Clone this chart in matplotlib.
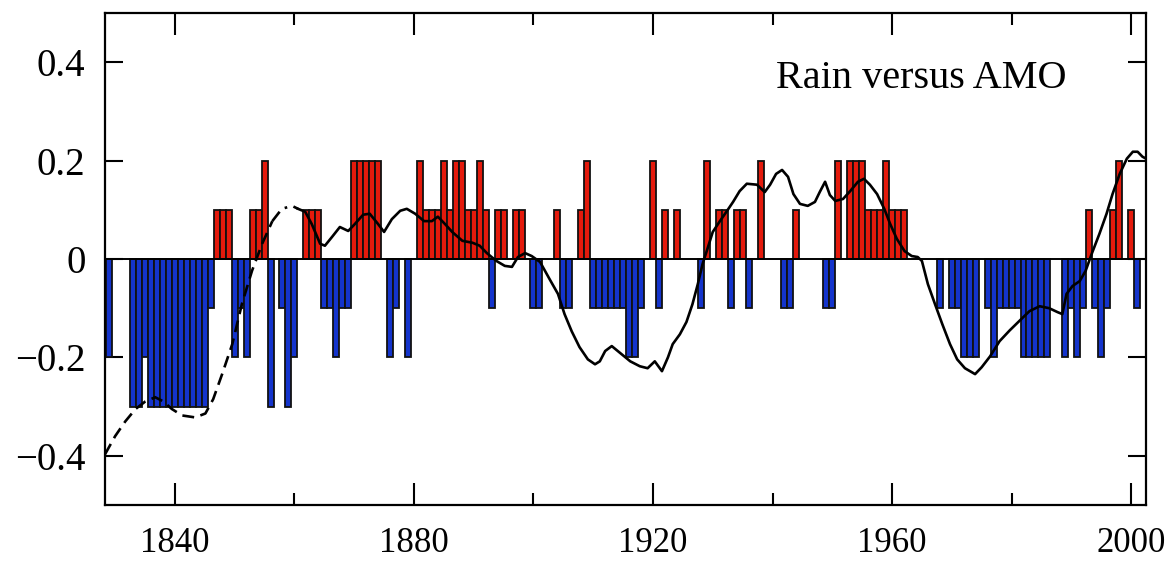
import matplotlib
matplotlib.use("Agg")
import matplotlib.pyplot as plt

# ---------------- data ----------------
bar_years = [1829,
             1833, 1834, 1835, 1836, 1837, 1838, 1839, 1840, 1841, 1842, 1843, 1844, 1845, 1846,
             1847, 1848, 1849, 1850, 1851, 1852, 1853, 1854, 1855,
             1856, 1858, 1859, 1860, 1862, 1863, 1864,
             1865, 1866, 1867, 1868, 1869, 1870, 1871, 1872, 1873, 1874,
             1876, 1877, 1879,
             1881, 1882, 1883, 1884, 1885, 1886, 1887, 1888, 1889, 1890, 1891, 1892,
             1893, 1894, 1895, 1897, 1898, 1900, 1901, 1904, 1905, 1906, 1908, 1909,
             1910, 1911, 1912, 1913, 1914, 1915, 1916, 1917, 1918,
             1920, 1921, 1922, 1924,
             1928, 1929, 1931, 1932, 1933, 1934, 1935, 1936, 1938,
             1942, 1943, 1944,
             1949, 1950, 1951, 1953, 1954, 1955, 1956, 1957, 1958, 1959, 1960, 1961, 1962,
             1968, 1970, 1971, 1972, 1973, 1974, 1976, 1977,
             1978, 1979, 1980, 1981, 1982, 1983, 1984, 1985, 1986,
             1989, 1990, 1991, 1992, 1993, 1994, 1995, 1996, 1997, 1998, 2000, 2001]
bar_values = [-0.2,
              -0.3, -0.3, -0.2, -0.3, -0.3, -0.3, -0.3, -0.3, -0.3, -0.3, -0.3, -0.3, -0.3, -0.1,
              0.1, 0.1, 0.1, -0.2, -0.1, -0.2, 0.1, 0.1, 0.2,
              -0.3, -0.1, -0.3, -0.2, 0.1, 0.1, 0.1,
              -0.1, -0.1, -0.2, -0.1, -0.1, 0.2, 0.2, 0.2, 0.2, 0.2,
              -0.2, -0.1, -0.2,
              0.2, 0.1, 0.1, 0.1, 0.2, 0.1, 0.2, 0.2, 0.1, 0.1, 0.2, 0.1,
              -0.1, 0.1, 0.1, 0.1, 0.1, -0.1, -0.1, 0.1, -0.1, -0.1, 0.1, 0.2,
              -0.1, -0.1, -0.1, -0.1, -0.1, -0.1, -0.2, -0.2, -0.1,
              0.2, -0.1, 0.1, 0.1,
              -0.1, 0.2, 0.1, 0.1, -0.1, 0.1, 0.1, -0.1, 0.2,
              -0.1, -0.1, 0.1,
              -0.1, -0.1, 0.2, 0.2, 0.2, 0.2, 0.1, 0.1, 0.1, 0.2, 0.1, 0.1, 0.1,
              -0.1, -0.1, -0.1, -0.2, -0.2, -0.2, -0.1, -0.2,
              -0.1, -0.1, -0.1, -0.1, -0.2, -0.2, -0.2, -0.2, -0.2,
              -0.2, -0.1, -0.2, -0.1, 0.1, -0.1, -0.2, -0.1, 0.1, 0.2, 0.1, -0.1]

# AMO index: early reconstruction (dashed), bridge (dash-dot), instrumental (solid)
amo_dashed_years = [1828.3, 1830.0, 1831.7, 1833.4, 1835.0, 1836.7, 1838.0, 1839.5, 1841.2,
                    1843.4, 1845.1, 1846.4, 1847.9, 1849.6, 1851.2, 1852.9, 1854.6, 1856.3]
amo_dashed_values = [-0.397, -0.36, -0.33, -0.305, -0.29, -0.281, -0.289, -0.305, -0.318,
                     -0.322, -0.314, -0.285, -0.234, -0.173, -0.092, -0.024, 0.031, 0.077]
amo_bridge_years = [1856.3, 1857.9, 1859.6, 1860.6]
amo_bridge_values = [0.077, 0.102, 0.108, 0.102]
amo_solid_years = [1860.6, 1861.8, 1862.9, 1864.3, 1865.1, 1866.3, 1867.6, 1869.0, 1870.1,
                   1871.5, 1872.6, 1874.0, 1875.0, 1876.3, 1877.7, 1878.8, 1880.2, 1881.7,
                   1883.0, 1884.0, 1885.2, 1886.4, 1888.1, 1889.8, 1891.0, 1892.2, 1893.8,
                   1895.2, 1896.4, 1897.4, 1898.6, 1899.7, 1901.1, 1902.7, 1904.1, 1905.2,
                   1906.4, 1907.7, 1909.1, 1910.3, 1911.1, 1912.0, 1913.1, 1914.5, 1916.2,
                   1917.8, 1919.1, 1920.3, 1921.5, 1922.5, 1923.3, 1924.5, 1925.6, 1926.6,
                   1927.5, 1928.3, 1929.2, 1930.0, 1931.2, 1932.4, 1933.4, 1934.5, 1935.7,
                   1937.4, 1938.7, 1939.6, 1940.6, 1941.6, 1942.6, 1943.5, 1944.6, 1945.9,
                   1947.1, 1947.9, 1948.8, 1949.6, 1950.5, 1951.8, 1953.0, 1954.3, 1955.3,
                   1956.3, 1957.5, 1958.7, 1959.7, 1960.8, 1962.1, 1963.3, 1964.3, 1965.0,
                   1966.0, 1967.2, 1968.4, 1969.7, 1970.9, 1972.2, 1973.9, 1975.0, 1976.4,
                   1978.0, 1979.7, 1981.3, 1983.0, 1984.7, 1986.3, 1987.7, 1988.5, 1989.2,
                   1990.2, 1991.4, 1992.4, 1993.4, 1994.7, 1995.9, 1996.9, 1998.1, 1999.3,
                   2000.3, 2001.1, 2001.9, 2002.5]
amo_solid_values = [0.102, 0.096, 0.071, 0.031, 0.027, 0.045, 0.065, 0.057, 0.071,
                    0.090, 0.092, 0.071, 0.055, 0.081, 0.098, 0.102, 0.092, 0.077,
                    0.077, 0.086, 0.071, 0.055, 0.037, 0.033, 0.027, 0.012, -0.004,
                    -0.014, -0.016, 0.004, 0.012, 0.006, -0.006, -0.041, -0.071, -0.112,
                    -0.147, -0.179, -0.204, -0.214, -0.208, -0.187, -0.177, -0.191, -0.208,
                    -0.218, -0.222, -0.208, -0.228, -0.200, -0.173, -0.153, -0.128, -0.092,
                    -0.051, -0.010, 0.024, 0.055, 0.077, 0.098, 0.116, 0.138, 0.153,
                    0.151, 0.136, 0.151, 0.173, 0.181, 0.167, 0.132, 0.112, 0.108,
                    0.116, 0.136, 0.157, 0.130, 0.118, 0.122, 0.138, 0.157, 0.163,
                    0.151, 0.132, 0.102, 0.071, 0.041, 0.016, 0.006, 0.004, -0.004,
                    -0.051, -0.092, -0.132, -0.173, -0.204, -0.222, -0.234, -0.220, -0.198,
                    -0.167, -0.145, -0.126, -0.106, -0.096, -0.100, -0.108, -0.112, -0.071,
                    -0.055, -0.045, -0.024, 0.010, 0.051, 0.092, 0.132, 0.173, 0.204,
                    0.218, 0.218, 0.208, 0.204]

x_major = [1840, 1880, 1920, 1960, 2000]
x_minor = [1860, 1900, 1940, 1980]
y_ticks = [-0.4, -0.2, 0.0, 0.2, 0.4]
y_labels = ["\u22120.4", "\u22120.2", "0", "0.2", "0.4"]
title_text = "Rain versus AMO"

# ---------------- figure ----------------
plt.rcParams["font.family"] = ["Liberation Serif", "DejaVu Serif"]
W, H = 1167, 563
fig = plt.figure(figsize=(W / 100, H / 100), dpi=100)
ax = fig.add_axes([105 / W, (H - 505) / H, (1146 - 105) / W, (505 - 13) / H])

red = "#e41a0c"
blue = "#1434cc"
colors = [red if v > 0 else blue for v in bar_values]
ax.bar(bar_years, bar_values, width=1.0, color=colors, edgecolor="#111111",
       linewidth=1.3, zorder=2)
ax.axhline(0, color="black", lw=1.4, zorder=3)

ax.plot(amo_dashed_years, amo_dashed_values, color="black", lw=1.9,
        linestyle=(0, (4.5, 2.5)), zorder=4)
ax.plot(amo_bridge_years, amo_bridge_values, color="black", lw=1.9,
        linestyle=(0, (4.5, 2.5, 1, 2.5)), zorder=4)
ax.plot(amo_solid_years, amo_solid_values, color="black", lw=1.9, zorder=4,
        solid_joinstyle="round")

ax.set_xlim(1828.3, 2002.5)
ax.set_ylim(-0.5, 0.5)

ax.set_xticks(x_major)
ax.set_xticks(x_minor, minor=True)
ax.set_xticklabels([str(v) for v in x_major])
ax.set_yticks(y_ticks)
ax.set_yticklabels(y_labels)

ax.tick_params(axis="x", which="major", direction="in", length=16, width=1.5,
               top=True, bottom=True, labelsize=25, pad=16)
ax.tick_params(axis="x", which="minor", direction="in", length=8.5, width=1.5,
               top=True, bottom=True)
ax.tick_params(axis="y", which="major", direction="in", length=13, width=1.5,
               left=True, right=True, labelsize=28, pad=14)
for s in ax.spines.values():
    s.set_linewidth(1.6)

ax.text(0.784, 0.866, title_text, transform=ax.transAxes, ha="center", va="center",
        fontsize=29)

fig.savefig("out.png", dpi=100)
